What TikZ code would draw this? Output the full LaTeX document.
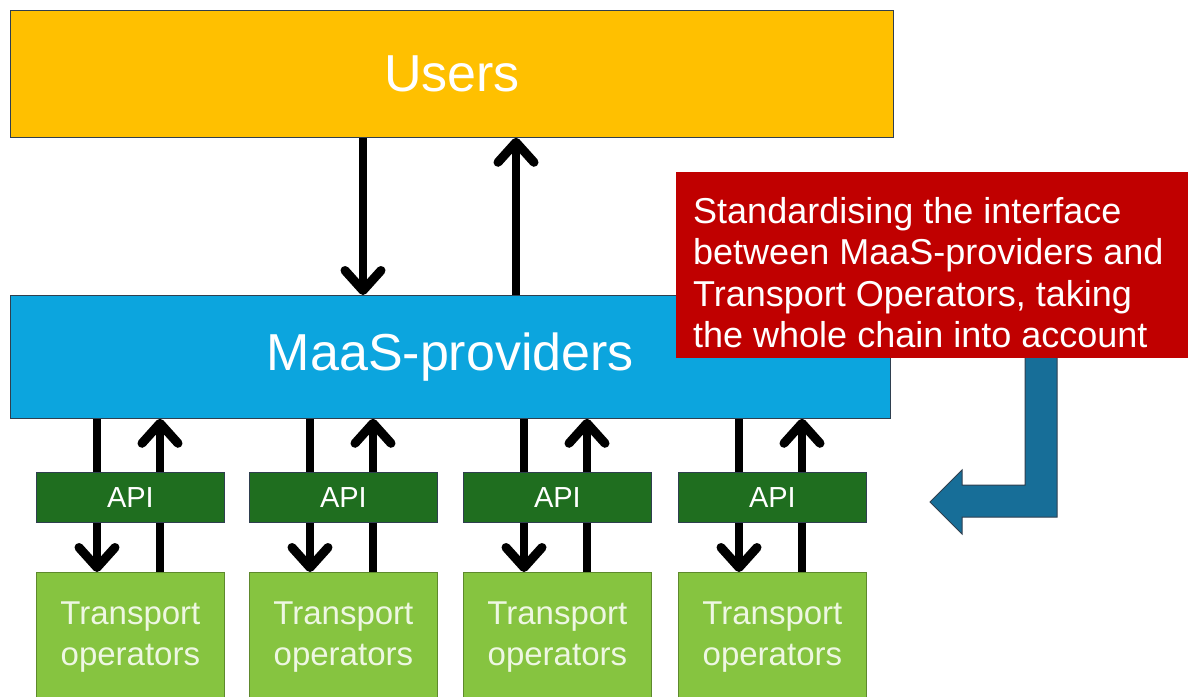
\documentclass[tikz,border=0pt]{standalone}
\usepackage{fontspec}
\setmainfont{Liberation Sans}
\usetikzlibrary{arrows.meta,calc,backgrounds}
\definecolor{usery}{HTML}{FFC000}
\definecolor{maasb}{HTML}{0CA5DE}
\definecolor{notered}{HTML}{C00000}
\definecolor{apig}{HTML}{1F6E1F}
\definecolor{tog}{HTML}{86C440}
\definecolor{bendb}{HTML}{176E98}
\definecolor{totext}{HTML}{EEF7E2}
\definecolor{edge}{HTML}{2F3F4F}
\begin{document}
\begin{tikzpicture}[x=1pt,y=-1pt,
  box/.style={rectangle,draw=edge,line width=0.8pt,inner sep=0pt,anchor=north west,text=white},
  apibox/.style={box,fill=apig,minimum width=188pt,minimum height=50pt,font=\fontsize{29}{34}\selectfont},
  tobox/.style={box,fill=tog,draw=tog!70!black,minimum width=188pt,minimum height=130pt,text=totext,align=center,font=\fontsize{33}{41}\selectfont},
  arr/.style={line width=8pt,-{Straight Barb[length=20pt,width=36pt,line width=9pt,round]}}]
\useasboundingbox (0,0) rectangle (1188,696);
\clip (0,0) rectangle (1188,696);

\node[box,fill=usery,minimum width=883pt,minimum height=127pt,font=\fontsize{52}{60}\selectfont] (users) at (10,10) {Users};
\node[box,fill=maasb,minimum width=880pt,minimum height=123pt,font=\fontsize{52}{60}\selectfont] (maas) at (10,295) {MaaS-providers};

% bent arrow
\draw[fill=bendb,draw=edge,line width=1pt] (1025,350) -- (1057,350) -- (1057,517) -- (962,517) -- (962,534) -- (930,502) -- (962,470) -- (962,485) -- (1025,485) -- cycle;

\node[box,fill=notered,draw=none,minimum width=530pt,minimum height=186pt] (note) at (676,172) {};
\node[anchor=west,inner sep=0pt,text=white,align=left,font=\fontsize{36}{41.5}\selectfont] (notetext) at ($(note.west)+(17,7)$) {Standardising the interface\\between MaaS-providers and\\Transport Operators, taking\\the whole chain into account};

\foreach \i/\x in {1/36,2/249,3/463,4/678}{
  \node[apibox] (api\i) at (\x,472) {API};
  \node[tobox] (to\i) at (\x,572) {Transport\\operators};
}

\begin{scope}[on background layer]
\draw[arr] ($(users.south west)+(353,0)$) -- ($(maas.north west)+(353,0)$);
\draw[arr] ($(maas.north west)+(506,0)$) -- ($(users.south west)+(506,0)$);
\foreach \i in {1,2,3,4}{
  \draw[arr] ($(api\i.west |- maas.south)+(61,0)$) -- ($(to\i.north west)+(61,0)$);
  \draw[arr] ($(to\i.north west)+(124,0)$) -- ($(api\i.west |- maas.south)+(124,0)$);
}
\end{scope}
\end{tikzpicture}
\end{document}
